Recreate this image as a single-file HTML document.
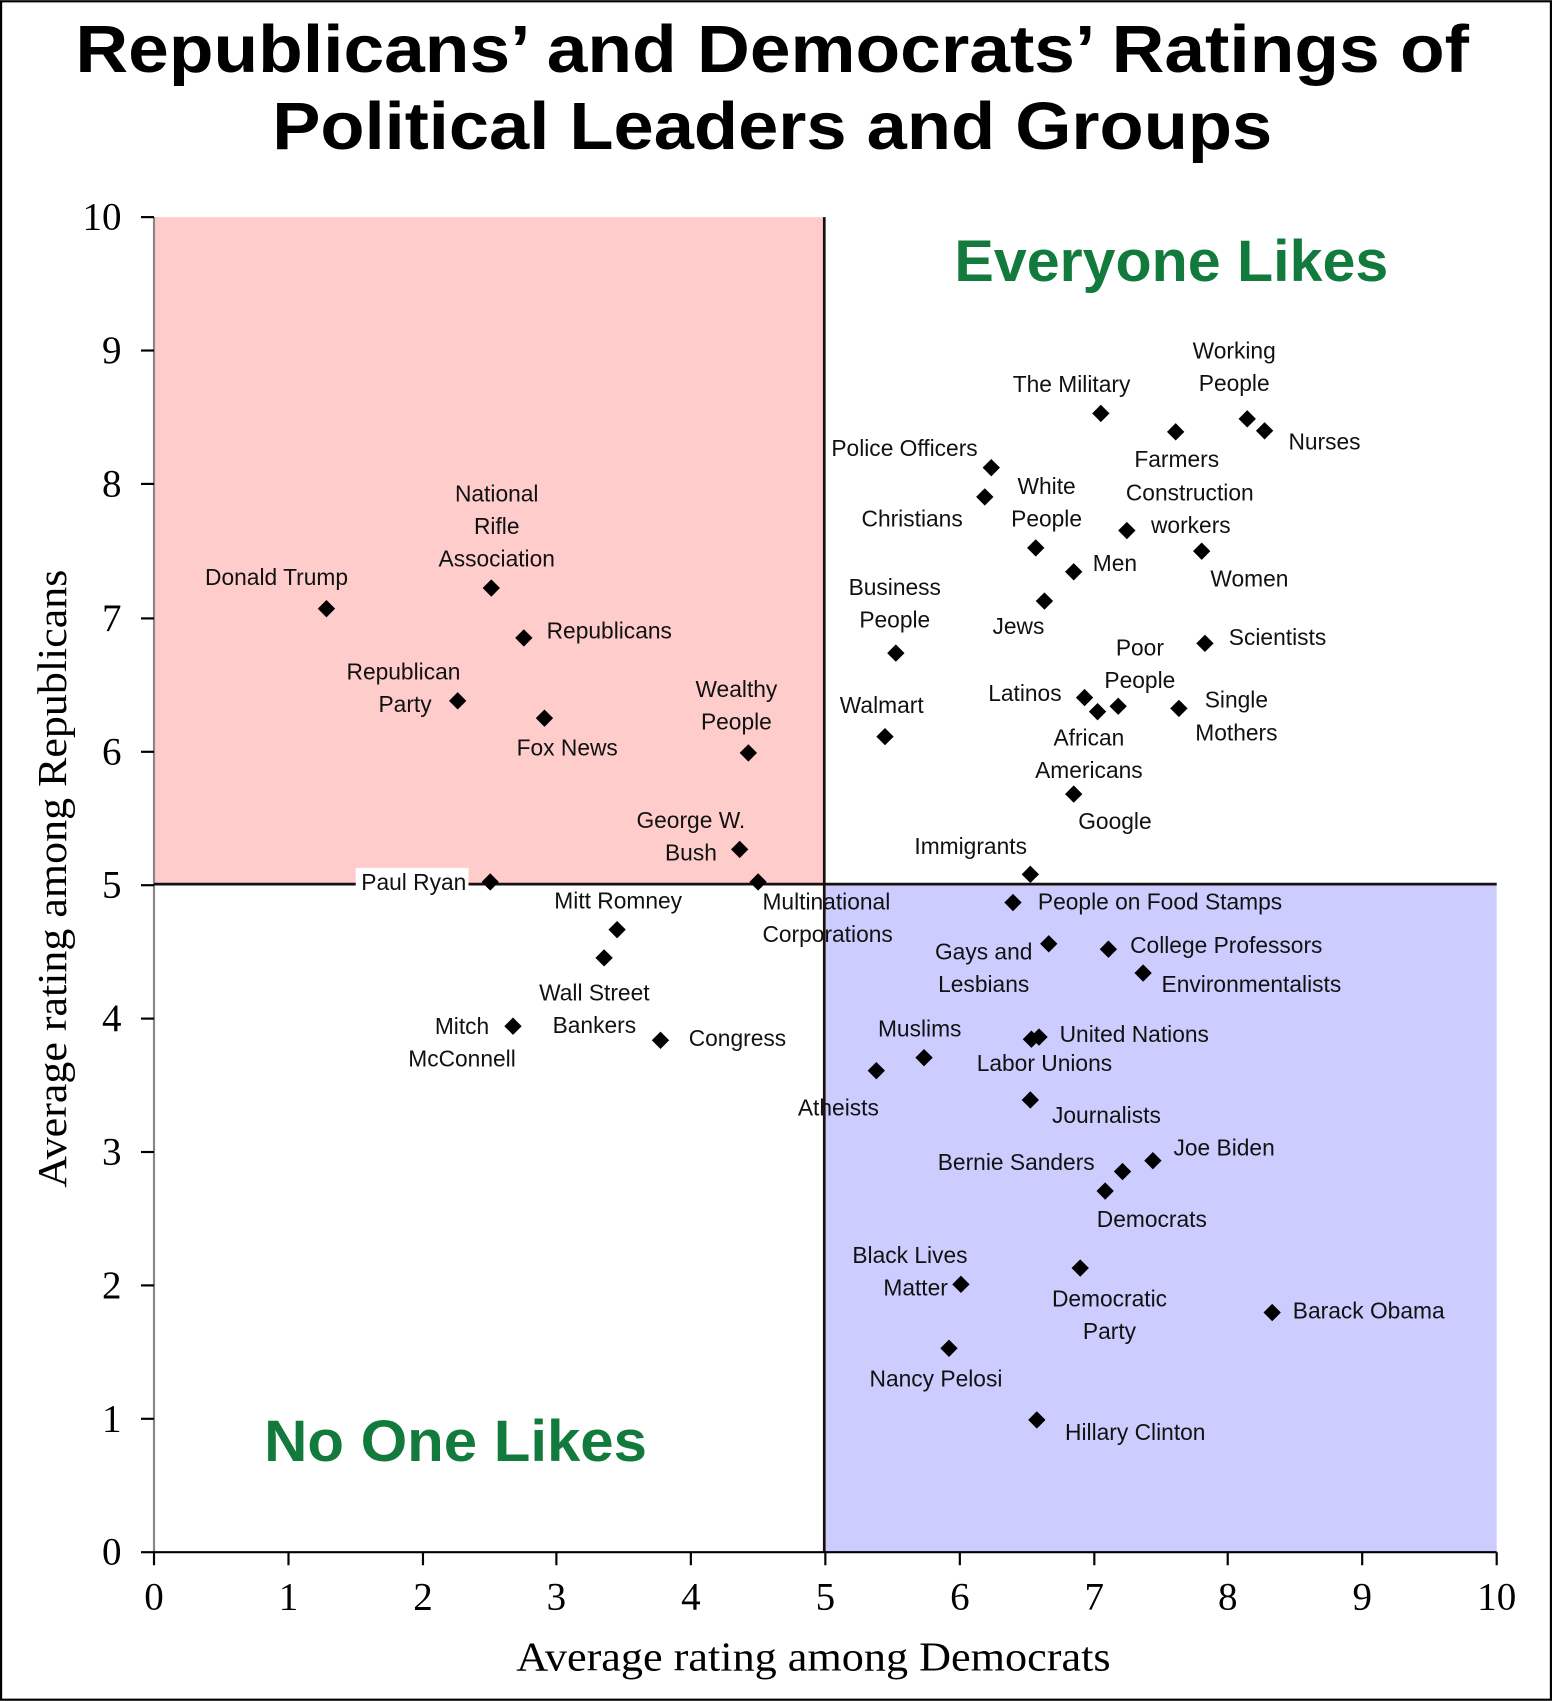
<!DOCTYPE html>
<html><head><meta charset="utf-8"><style>html,body{margin:0;padding:0;background:#fff}svg{display:block}</style></head>
<body>
<svg width="1552" height="1701" viewBox="0 0 1431 1568" xmlns="http://www.w3.org/2000/svg">
<rect x="1" y="1" width="1429" height="1566" fill="#fff" stroke="#000" stroke-width="2"/>
<g font-family="Liberation Sans, sans-serif" font-weight="bold" font-size="62" text-anchor="middle" fill="#000">
<text x="712" y="66" textLength="1285" lengthAdjust="spacingAndGlyphs">Republicans’ and Democrats’ Ratings of</text>
<text x="712" y="137" textLength="922" lengthAdjust="spacingAndGlyphs">Political Leaders and Groups</text>
</g>
<rect x="142" y="200" width="618" height="615" fill="#ffcccc"/>
<rect x="760" y="815" width="620" height="616" fill="#ccccff"/>
<line x1="142" y1="200" x2="142" y2="1431" stroke="#888" stroke-width="2"/>
<line x1="760" y1="200" x2="760" y2="1431" stroke="#1a1010" stroke-width="2.5"/>
<line x1="142" y1="815" x2="1380" y2="815" stroke="#1a1010" stroke-width="2.5"/>
<line x1="142" y1="1431" x2="1380" y2="1431" stroke="#000" stroke-width="2"/>
<g stroke="#000" stroke-width="2">
<line x1="130" y1="200" x2="142" y2="200"/><line x1="130" y1="323" x2="142" y2="323"/><line x1="130" y1="446" x2="142" y2="446"/><line x1="130" y1="570" x2="142" y2="570"/><line x1="130" y1="693" x2="142" y2="693"/><line x1="130" y1="816" x2="142" y2="816"/><line x1="130" y1="939" x2="142" y2="939"/><line x1="130" y1="1062" x2="142" y2="1062"/><line x1="130" y1="1185" x2="142" y2="1185"/><line x1="130" y1="1308" x2="142" y2="1308"/><line x1="130" y1="1431" x2="142" y2="1431"/>
<line x1="142" y1="1431" x2="142" y2="1443"/><line x1="266" y1="1431" x2="266" y2="1443"/><line x1="390" y1="1431" x2="390" y2="1443"/><line x1="513" y1="1431" x2="513" y2="1443"/><line x1="637" y1="1431" x2="637" y2="1443"/><line x1="761" y1="1431" x2="761" y2="1443"/><line x1="885" y1="1431" x2="885" y2="1443"/><line x1="1009" y1="1431" x2="1009" y2="1443"/><line x1="1132" y1="1431" x2="1132" y2="1443"/><line x1="1256" y1="1431" x2="1256" y2="1443"/><line x1="1380" y1="1431" x2="1380" y2="1443"/>
</g>
<g font-family="Liberation Serif, serif" font-size="36" fill="#000">
<g text-anchor="end" dominant-baseline="central">
<text x="112" y="200">10</text><text x="112" y="323">9</text><text x="112" y="446">8</text><text x="112" y="570">7</text><text x="112" y="693">6</text><text x="112" y="816">5</text><text x="112" y="939">4</text><text x="112" y="1062">3</text><text x="112" y="1185">2</text><text x="112" y="1308">1</text><text x="112" y="1431">0</text>
</g>
<g text-anchor="middle">
<text x="142" y="1484">0</text><text x="266" y="1484">1</text><text x="390" y="1484">2</text><text x="513" y="1484">3</text><text x="637" y="1484">4</text><text x="761" y="1484">5</text><text x="885" y="1484">6</text><text x="1009" y="1484">7</text><text x="1132" y="1484">8</text><text x="1256" y="1484">9</text><text x="1380" y="1484">10</text>
<text x="750" y="1540" font-size="38" textLength="548" lengthAdjust="spacingAndGlyphs">Average rating among Democrats</text>
<text transform="translate(61,810) rotate(-90)" font-size="38" textLength="570" lengthAdjust="spacingAndGlyphs">Average rating among Republicans</text>
</g>
</g>
<g font-family="Liberation Sans, sans-serif" font-weight="bold" font-size="54" fill="#127a3c" text-anchor="middle">
<text x="1080" y="259" textLength="400" lengthAdjust="spacingAndGlyphs">Everyone Likes</text>
<text x="420" y="1347" textLength="353" lengthAdjust="spacingAndGlyphs">No One Likes</text>
</g>
<rect x="328" y="800" width="104" height="27" fill="#fff"/>
<g fill="#000">
<path d="M301 553l8 8-8 8-8-8z"/><path d="M453 534l8 8-8 8-8-8z"/><path d="M483 580l8 8-8 8-8-8z"/><path d="M422 638l8 8-8 8-8-8z"/><path d="M502 654l8 8-8 8-8-8z"/><path d="M690 686l8 8-8 8-8-8z"/><path d="M682 775l8 8-8 8-8-8z"/><path d="M452 805l8 8-8 8-8-8z"/><path d="M699 805l8 8-8 8-8-8z"/><path d="M569 849l8 8-8 8-8-8z"/><path d="M557 875l8 8-8 8-8-8z"/><path d="M473 938l8 8-8 8-8-8z"/><path d="M609 951l8 8-8 8-8-8z"/>
<path d="M1150 378l8 8-8 8-8-8z"/><path d="M1166 389l8 8-8 8-8-8z"/><path d="M1015 373l8 8-8 8-8-8z"/><path d="M1084 390l8 8-8 8-8-8z"/><path d="M1039 481l8 8-8 8-8-8z"/><path d="M1108 500l8 8-8 8-8-8z"/><path d="M914 423l8 8-8 8-8-8z"/><path d="M908 450l8 8-8 8-8-8z"/><path d="M955 497l8 8-8 8-8-8z"/><path d="M990 519l8 8-8 8-8-8z"/><path d="M963 546l8 8-8 8-8-8z"/><path d="M826 594l8 8-8 8-8-8z"/><path d="M1111 585l8 8-8 8-8-8z"/><path d="M816 671l8 8-8 8-8-8z"/><path d="M1000 635l8 8-8 8-8-8z"/><path d="M1031 643l8 8-8 8-8-8z"/><path d="M1012 648l8 8-8 8-8-8z"/><path d="M1087 645l8 8-8 8-8-8z"/><path d="M990 724l8 8-8 8-8-8z"/><path d="M950 798l8 8-8 8-8-8z"/>
<path d="M934 824l8 8-8 8-8-8z"/><path d="M967 862l8 8-8 8-8-8z"/><path d="M1022 867l8 8-8 8-8-8z"/><path d="M1054 889l8 8-8 8-8-8z"/><path d="M852 967l8 8-8 8-8-8z"/><path d="M958 948l8 8-8 8-8-8z"/><path d="M951 950l8 8-8 8-8-8z"/><path d="M808 979l8 8-8 8-8-8z"/><path d="M950 1006l8 8-8 8-8-8z"/><path d="M1063 1062l8 8-8 8-8-8z"/><path d="M1035 1072l8 8-8 8-8-8z"/><path d="M1019 1090l8 8-8 8-8-8z"/><path d="M886 1176l8 8-8 8-8-8z"/><path d="M996 1161l8 8-8 8-8-8z"/><path d="M1173 1202l8 8-8 8-8-8z"/><path d="M875 1235l8 8-8 8-8-8z"/><path d="M956 1301l8 8-8 8-8-8z"/>
</g>
<g font-family="Liberation Sans, sans-serif" font-size="21" fill="#111" dominant-baseline="central">
<g text-anchor="middle">
<text x="255" y="532">Donald Trump</text>
<text x="458" y="455">National</text><text x="458" y="485">Rifle</text><text x="458" y="515">Association</text>
<text x="372" y="619">Republican</text>
<text x="523" y="689">Fox News</text>
<text x="679" y="635">Wealthy</text><text x="679" y="665">People</text>
<text x="637" y="756">George W.</text>
<text x="570" y="830">Mitt Romney</text>
<text x="548" y="915">Wall Street</text><text x="548" y="945">Bankers</text>
<text x="426" y="946">Mitch</text><text x="426" y="976">McConnell</text>
<text x="1138" y="323">Working</text><text x="1138" y="353">People</text>
<text x="988" y="354">The Military</text>
<text x="1085" y="423">Farmers</text>
<text x="1097" y="454">Construction</text><text x="1098" y="484">workers</text>
<text x="1152" y="533">Women</text>
<text x="834" y="413">Police Officers</text>
<text x="841" y="478">Christians</text>
<text x="965" y="448">White</text><text x="965" y="478">People</text>
<text x="1028" y="519">Men</text>
<text x="939" y="577">Jews</text>
<text x="825" y="541">Business</text><text x="825" y="571">People</text>
<text x="813" y="650">Walmart</text>
<text x="945" y="639">Latinos</text>
<text x="1051" y="597">Poor</text><text x="1051" y="627">People</text>
<text x="1004" y="680">African</text><text x="1004" y="710">Americans</text>
<text x="1140" y="645">Single</text><text x="1140" y="675">Mothers</text>
<text x="1028" y="757">Google</text>
<text x="895" y="780">Immigrants</text>
<text x="907" y="877">Gays and</text><text x="907" y="907">Lesbians</text>
<text x="848" y="948">Muslims</text>
<text x="963" y="980">Labor Unions</text>
<text x="773" y="1021">Atheists</text>
<text x="937" y="1071">Bernie Sanders</text>
<text x="1062" y="1124">Democrats</text>
<text x="839" y="1157">Black Lives</text>
<text x="1023" y="1197">Democratic</text><text x="1023" y="1227">Party</text>
<text x="863" y="1271">Nancy Pelosi</text>
</g>
<g text-anchor="start">
<text x="504" y="581">Republicans</text>
<text x="703" y="831">Multinational</text><text x="703" y="861">Corporations</text>
<text x="635" y="957">Congress</text>
<text x="1188" y="407">Nurses</text>
<text x="1133" y="587">Scientists</text>
<text x="957" y="831">People on Food Stamps</text>
<text x="1042" y="871">College Professors</text>
<text x="1071" y="907">Environmentalists</text>
<text x="977" y="953">United Nations</text>
<text x="970" y="1028">Journalists</text>
<text x="1082" y="1058">Joe Biden</text>
<text x="1192" y="1208">Barack Obama</text>
<text x="982" y="1320">Hillary Clinton</text>
</g>
<g text-anchor="end">
<text x="398" y="649">Party</text>
<text x="661" y="786">Bush</text>
<text x="430" y="813">Paul Ryan</text>
<text x="874" y="1187">Matter</text>
</g>
</g>
</svg>
</body></html>
